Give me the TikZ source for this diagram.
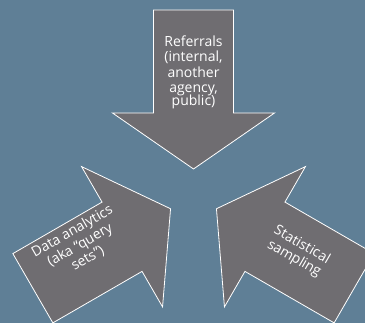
\documentclass[tikz,border=0pt]{standalone}
\usepackage{fontspec}
\setmainfont{Open Sans}
\definecolor{bgblue}{RGB}{95,127,150}
\definecolor{arrowgray}{RGB}{111,109,113}
\tikzset{
  bigarrow/.style={fill=arrowgray, draw=white, line width=0.8pt, line join=miter},
  lbl/.style={text=white, font=\fontsize{14}{15.5}\selectfont, align=center, inner sep=0pt}
}
\begin{document}
\begin{tikzpicture}[x=1pt,y=1pt]
\fill[bgblue] (0,0) rectangle (365,323);
\useasboundingbox (0,0) rectangle (365,323);
\clip (0,0) rectangle (365,323);
\coordinate (C) at (193.5,127.5);
\foreach \ang in {-90,30,150} {
  \begin{scope}[shift={(C)}, rotate=\ang, shift={(-26.5,0)}]
    \draw[bigarrow] (0,0) -- (-56,81) -- (-56,40) -- (-159,40) -- (-159,-40) -- (-56,-40) -- (-56,-81) -- cycle;
  \end{scope}
}
\node[lbl] (referrals) at (193.5,251) {Referrals\\(internal,\\another\\agency,\\[-3pt]public)};
\node[lbl, rotate=30] (analytics) at (80,78) {Data analytics\\(aka “query\\sets”)};
\node[lbl, rotate=-30] (sampling) at (298,71) {Statistical\\sampling};
\end{tikzpicture}
\end{document}
